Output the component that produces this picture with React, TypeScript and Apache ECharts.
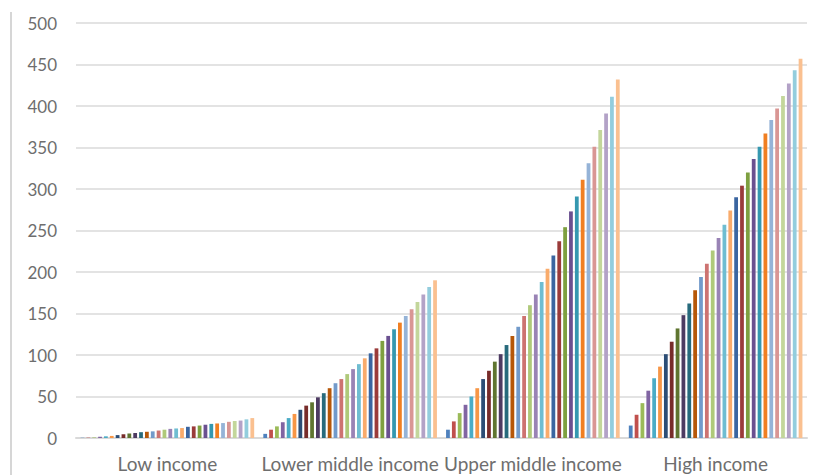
import React, { useEffect, useRef } from "react";
import * as echarts from "echarts";

const categories = ["Low income", "Lower middle income", "Upper middle income", "High income"];
const yTicks = { min: 0, max: 500, interval: 50 };

const lowIncome = [0.3, 0.4, 0.6, 1.5, 2, 2.5, 3.5, 4.5, 5.5, 6, 7, 7.5, 8, 9, 10, 11, 11.5, 12, 13.5, 14, 15, 16, 17, 17.5, 18, 19.5, 20.5, 21, 22.5, 24];
const lowerMiddleIncome = [5, 10, 14, 19, 24, 29, 34, 39, 43, 49, 54, 60, 66, 71, 77, 83, 89, 96, 102, 108, 117, 123, 131, 139, 147, 155, 164, 173, 182, 190];
const upperMiddleIncome = [10, 20, 30, 40, 50, 60, 71, 81, 92, 101, 112, 123, 134, 147, 160, 173, 188, 204, 220, 237, 254, 273, 291, 311, 331, 351, 371, 391, 411, 432];
const highIncome = [15, 28, 42, 57, 72, 86, 101, 116, 132, 148, 162, 178, 194, 210, 226, 241, 257, 274, 290, 304, 320, 336, 351, 367, 383, 397, 412, 427, 443, 457];

const seriesColors = [
  "#4F81BD", "#C0504D", "#9BBB59", "#8064A2", "#4BACC6", "#F79646",
  "#2C4D75", "#772C2A", "#5F7530", "#4D3B62", "#276A7C", "#B65708",
  "#729ACA", "#CD7371", "#AFC97A", "#9983B5", "#6FBDD1", "#F9AB6B",
  "#3A65A0", "#9A3B3A", "#7EA040", "#6A5090", "#3598B0", "#F07F22",
  "#95B3D7", "#D99694", "#C3D69B", "#B3A2C7", "#93CDDD", "#FAC090",
];

const groups = [lowIncome, lowerMiddleIncome, upperMiddleIncome, highIncome];

export default function App() {
  const ref = useRef<HTMLDivElement>(null);
  useEffect(() => {
    if (!ref.current) return;
    const chart = echarts.init(ref.current, null, { renderer: "svg" });
    const series = seriesColors.map((color, i) => ({
      name: "Series " + (i + 1),
      type: "bar",
      data: groups.map((g) => g[i]),
      itemStyle: { color },
      barGap: "55%",
      barCategoryGap: "5%",
    }));
    chart.setOption({
      animation: false,
      backgroundColor: "#ffffff",
      grid: { left: 76, right: 12, top: 23, bottom: 37 },
      xAxis: {
        type: "category",
        data: categories,
        axisLine: { show: true, lineStyle: { color: "#d9d9d9", width: 2 } },
        axisTick: { show: false },
        axisLabel: {
          color: "#6e6e6e",
          fontFamily: "Lato",
          fontSize: 19,
          margin: 16,
          interval: 0,
        },
      },
      yAxis: {
        type: "value",
        min: yTicks.min,
        max: yTicks.max,
        interval: yTicks.interval,
        axisLine: { show: false },
        axisTick: { show: false },
        splitLine: { lineStyle: { color: "#e3e3e3", width: 2 } },
        axisLabel: {
          color: "#6e6e6e",
          fontFamily: "Lato",
          fontSize: 17,
          margin: 19,
        },
      },
      graphic: [
        {
          type: "line",
          shape: { x1: 11, y1: 12, x2: 11, y2: 475 },
          style: { stroke: "#d6d6d6", lineWidth: 2 },
        },
      ],
      series,
    });
    return () => chart.dispose();
  }, []);
  return (
    <div
      ref={ref}
      style={{ position: "absolute", left: 0, top: 0, width: 819, height: 475 }}
    />
  );
}
